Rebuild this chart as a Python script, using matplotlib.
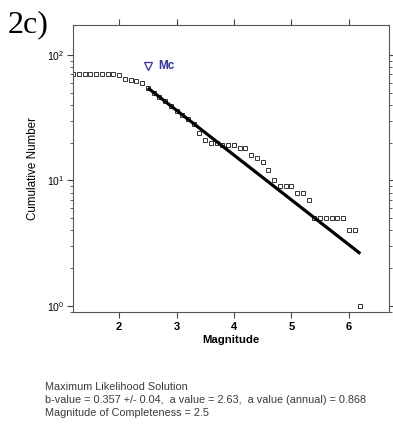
import numpy as np
import matplotlib.pyplot as plt
from matplotlib.ticker import LogLocator, NullFormatter

# Cumulative frequency-magnitude data
mags = [1.2, 1.3, 1.4, 1.5, 1.6, 1.7, 1.8, 1.9, 2.0, 2.1, 2.2, 2.3, 2.4,
        2.5, 2.6, 2.7, 2.8, 2.9, 3.0, 3.1, 3.2, 3.3, 3.4, 3.5, 3.6, 3.7,
        3.8, 3.9, 4.0, 4.1, 4.2, 4.3, 4.4, 4.5, 4.6, 4.7, 4.8, 4.9, 5.0,
        5.1, 5.2, 5.3, 5.4, 5.5, 5.6, 5.7, 5.8, 5.9, 6.0, 6.1, 6.2]
cum_number = [70, 70, 70, 70, 70, 70, 70, 70, 69, 64, 63, 62, 60,
              55, 50, 46, 43, 39, 36, 33, 31, 28, 24, 21, 20, 20,
              19, 19, 19, 18, 18, 16, 15, 14, 12, 10, 9, 9, 9,
              8, 8, 7, 5, 5, 5, 5, 5, 5, 4, 4, 1]

# Maximum likelihood fit
b_value = 0.357
a_value = 2.63
a_annual = 0.868
mc = 2.5
fit_range = [2.5, 6.2]
mc_marker_y = 82

fig = plt.figure(figsize=(3.93, 4.25), dpi=100)
ax = fig.add_axes([0.186, 0.266, 0.804, 0.675])

ax.semilogy(mags, cum_number, 's', ms=3.2, mfc='white', mec='#333333', mew=0.7, zorder=2)
fit_n = [10 ** (a_value - b_value * m) for m in fit_range]
ax.semilogy(fit_range, fit_n, '-', color='black', lw=2.3, solid_capstyle='butt', zorder=3)

ax.plot([mc], [mc_marker_y], 'v', ms=5.5, mfc='white', mec='#3030a8', mew=0.9)
ax.text(mc + 0.18, mc_marker_y, 'Mc', color='#3030a8', fontsize=8.5, fontweight='bold',
        family='Liberation Sans', va='center')

ax.set_xlim(1.2, 6.7)
ax.set_ylim(0.895, 173)
ax.set_xticks([2, 3, 4, 5, 6])
ax.yaxis.set_major_locator(LogLocator(base=10))
ax.yaxis.set_minor_locator(LogLocator(base=10, subs=np.arange(2, 10)))
ax.yaxis.set_minor_formatter(NullFormatter())

ax.tick_params(axis='both', which='both', direction='out', color='#444444',
               top=True, right=True, labeltop=False, labelright=False)
ax.tick_params(axis='x', which='major', length=4.5, width=0.8, pad=3, labelsize=8)
ax.tick_params(axis='y', which='major', length=4, width=0.8, pad=2, labelsize=7.5)
ax.tick_params(axis='y', which='minor', length=2.5, width=0.6)
for lab in ax.get_xticklabels():
    lab.set_family('Liberation Sans')
    lab.set_fontweight('bold')
for lab in ax.get_yticklabels():
    lab.set_family('Liberation Sans')
for s in ax.spines.values():
    s.set_color('#555555')
    s.set_linewidth(0.8)

ax.set_xlabel('Magnitude', fontsize=8.2, fontweight='bold', family='Liberation Sans', labelpad=2)
ax.set_ylabel('Cumulative Number', fontsize=8.4, family='Liberation Sans', labelpad=6)

fig.text(0.02, 0.975, '2c)', fontsize=23, family='Liberation Serif', va='top', ha='left')

info = ('Maximum Likelihood Solution\n'
        'b-value = %.3f +/- 0.04,  a value = %.2f,  a value (annual) = %.3f\n'
        'Magnitude of Completeness = %.1f' % (b_value, a_value, a_annual, mc))
fig.text(0.115, 0.059, info, fontsize=7.8, family='Liberation Sans', color='#3a3a3a',
         va='center', ha='left', linespacing=1.35)

fig.savefig('out.png', dpi=100)
